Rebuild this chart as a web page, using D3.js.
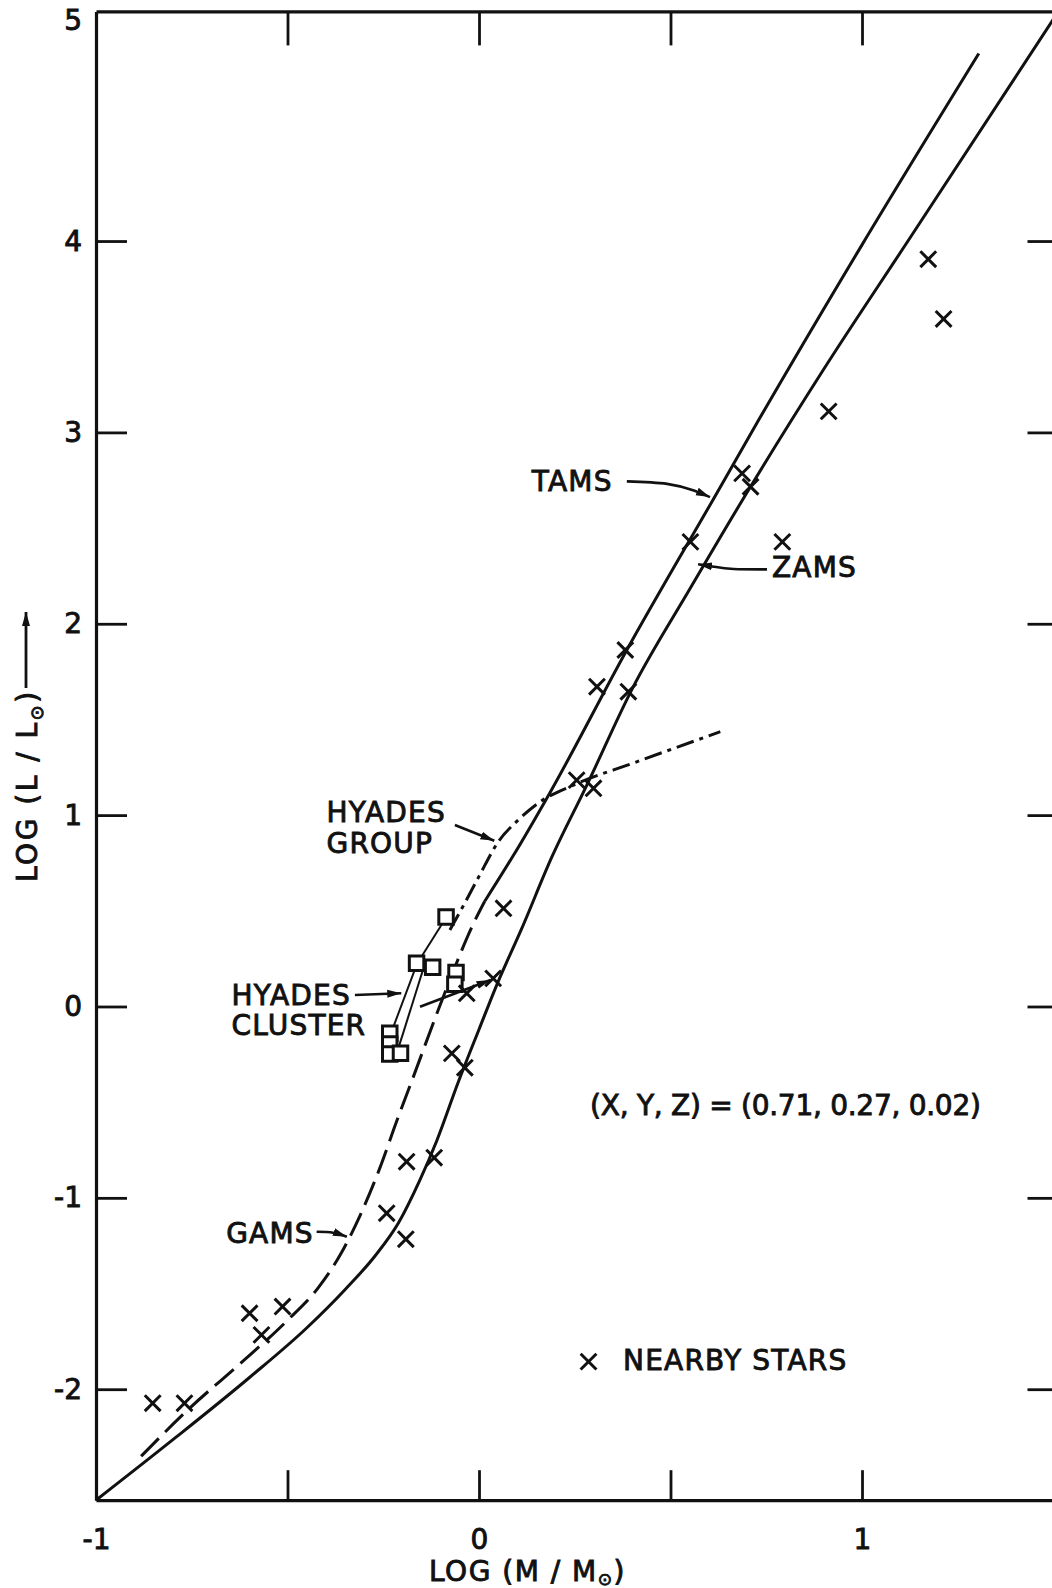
<!DOCTYPE html>
<html>
<head>
<meta charset="utf-8">
<script src="https://cdn.jsdelivr.net/npm/d3@7"></script>
<style>
  body { margin: 0; background: #fff; }
</style>
</head>
<body>
<div id="chart"></div>
<script>
const W = 1052, H = 1588;
const PLOT = {LEFT: 96, RIGHT: 1053.5, TOP: 11.4, BOTTOM: 1500.2};
const FONT = "DejaVu Sans";
const INK = "#111";

// tick values / labels
const xTickValues = [-1, -0.5, 0, 0.5, 1];
const xTickLabels = ["-1", "", "0", "", "1"];
const xTopTicks = [-0.5, 0, 0.5, 1];
const yTickValues = [-2, -1, 0, 1, 2, 3, 4, 5.15];
const yTickLabels = ["-2", "-1", "0", "1", "2", "3", "4", "5"];
const yRightTicks = [-2, -1, 0, 1, 2, 3, 4];

// curves, [log M, log L], ascending in log M
const zams = [
    [-1.00, -2.58], [-0.80, -2.265], [-0.60, -1.94], [-0.45, -1.68], [-0.35, -1.48],
    [-0.27, -1.30], [-0.21, -1.13], [-0.155, -0.91], [-0.11, -0.70], [-0.055, -0.40],
    [0.0, -0.12], [0.05, 0.13], [0.11, 0.40], [0.19, 0.78], [0.28, 1.15],
    [0.40, 1.66], [0.55, 2.18], [0.71, 2.72], [0.90, 3.33], [1.12, 4.00], [1.50, 5.16]
];
const tams = [
    [0.015, 0.55], [0.09, 0.79], [0.186, 1.12], [0.386, 1.863], [0.613, 2.655],
    [0.726, 3.05], [1.00, 3.98], [1.305, 4.98]
];
const gams = [
    [-0.882, -2.35], [-0.756, -2.10], [-0.62, -1.86], [-0.50, -1.64], [-0.42, -1.47],
    [-0.36, -1.29], [-0.31, -1.09], [-0.26, -0.85], [-0.215, -0.60], [-0.17, -0.36],
    [-0.12, -0.09], [-0.07, 0.17], [-0.02, 0.41], [0.015, 0.55]
];
const hyadesGroup = [
    [-0.076, 0.40], [-0.04, 0.53], [0.0, 0.68], [0.05, 0.86], [0.10, 0.97],
    [0.16, 1.07], [0.25, 1.16], [0.40, 1.27], [0.630, 1.436]
];

// nearby stars (x marks)
const nearbyStars = [
    [-0.852, -2.073], [-0.769, -2.073], [-0.599, -1.603], [-0.568, -1.716], [-0.513, -1.568],
    [-0.241, -1.080], [-0.189, -0.811], [-0.191, -1.216], [-0.117, -0.790], [-0.071, -0.245],
    [-0.037, -0.320], [-0.032, 0.069], [0.037, 0.147], [0.064, 0.513], [0.255, 1.183],
    [0.299, 1.140], [0.308, 1.671], [0.382, 1.863], [0.390, 1.645], [0.552, 2.428],
    [0.687, 2.786], [0.709, 2.716], [0.792, 2.428], [0.913, 3.110], [1.173, 3.905],
    [1.213, 3.593]
];

// hyades cluster (squares) and the lines joining them
const hyadesCluster = [
    [-0.086, 0.467], [-0.163, 0.226], [-0.121, 0.205], [-0.060, 0.177], [-0.063, 0.116],
    [-0.233, -0.140], [-0.233, -0.196], [-0.233, -0.248], [-0.205, -0.245]
];
const hyadesLinks = [
    [[-0.092, 0.445], [-0.152, 0.255]],
    [[-0.168, 0.190], [-0.228, -0.130]],
    [[-0.148, 0.180], [-0.210, -0.215]]
];

const svg = d3.select("#chart").append("svg")
    .attr("width", W)
    .attr("height", H)
    .style("background", "#fff");

const x = d3.scaleLinear().domain([-1, 1.5]).range([PLOT.LEFT, PLOT.RIGHT]);
const y = d3.scaleLinear().domain([-2.58, 5.2]).range([PLOT.BOTTOM, PLOT.TOP]);

// arrow head
svg.append("defs").append("marker")
    .attr("id", "head")
    .attr("markerUnits", "userSpaceOnUse")
    .attr("markerWidth", 16).attr("markerHeight", 12)
    .attr("refX", 14).attr("refY", 5)
    .attr("orient", "auto")
    .append("path")
    .attr("d", "M0,1 L14,5 L0,9 Z")
    .attr("fill", INK);

function inked(sel) {
    sel.attr("fill", INK).attr("stroke", INK).attr("stroke-width", 0.9);
}

function styleAxis(g) {
    g.attr("font-family", FONT).attr("font-size", 28);
    g.select(".domain").attr("stroke", INK).attr("stroke-width", 3.2);
    g.selectAll(".tick line").attr("stroke", INK).attr("stroke-width", 2.8);
    g.selectAll(".tick text").call(inked);
}

// bottom axis
svg.append("g")
    .attr("transform", `translate(0, ${PLOT.BOTTOM})`)
    .call(d3.axisBottom(x).tickValues(xTickValues).tickFormat((d, i) => xTickLabels[i])
        .tickSizeInner(-30).tickSizeOuter(0).tickPadding(29))
    .call(styleAxis);

// top axis
svg.append("g")
    .attr("transform", `translate(0, ${PLOT.TOP})`)
    .call(d3.axisTop(x).tickValues(xTopTicks).tickFormat("")
        .tickSizeInner(-34).tickSizeOuter(0))
    .call(styleAxis);

// left axis
const yAxisG = svg.append("g")
    .attr("transform", `translate(${PLOT.LEFT}, 0)`)
    .call(d3.axisLeft(y).tickValues(yTickValues).tickFormat((d, i) => yTickLabels[i])
        .tickSizeInner(-31).tickSizeOuter(0).tickPadding(14))
    .call(styleAxis);
yAxisG.selectAll(".tick line").filter(d => d > 5).remove();

// right axis
svg.append("g")
    .attr("transform", `translate(${PLOT.RIGHT}, 0)`)
    .call(d3.axisRight(y).tickValues(yRightTicks).tickFormat("")
        .tickSizeInner(-26).tickSizeOuter(0))
    .call(styleAxis);

// axis titles
const xTitle = svg.append("text")
    .attr("x", 429).attr("y", 1581)
    .attr("font-family", FONT).attr("font-size", 28)
    .attr("letter-spacing", 1.5)
    .call(inked);
xTitle.append("tspan").text("LOG (M / M");
xTitle.append("tspan").attr("font-size", 17).attr("dy", 4).text("\u2299");
xTitle.append("tspan").attr("dy", -4).text(")");

const yTitle = svg.append("text")
    .attr("transform", "translate(37, 882) rotate(-90)")
    .attr("font-family", FONT).attr("font-size", 28)
    .attr("letter-spacing", 2.5)
    .call(inked);
yTitle.append("tspan").text("LOG (L / L");
yTitle.append("tspan").attr("font-size", 18).attr("dy", 6).text("\u2299");
yTitle.append("tspan").attr("dy", -6).text(")");

svg.append("line")
    .attr("x1", 26).attr("y1", 688).attr("x2", 26).attr("y2", 612)
    .attr("stroke", INK).attr("stroke-width", 2.8)
    .attr("marker-end", "url(#head)");

// curves
const line = d3.line()
    .x(d => x(d[0]))
    .y(d => y(d[1]))
    .curve(d3.curveMonotoneX);

const curves = svg.append("g").attr("fill", "none").attr("stroke", INK);
curves.append("path").datum(zams).attr("d", line).attr("stroke-width", 3);
curves.append("path").datum(tams).attr("d", line).attr("stroke-width", 3);
curves.append("path").datum(gams).attr("d", line).attr("stroke-width", 3)
    .attr("stroke-dasharray", "25,9");
curves.append("path").datum(hyadesGroup).attr("d", line).attr("stroke-width", 3)
    .attr("stroke-dasharray", "18,6,4,6");

// hyades cluster
svg.append("g").selectAll("line")
    .data(hyadesLinks)
    .enter()
    .append("line")
    .attr("x1", d => x(d[0][0])).attr("y1", d => y(d[0][1]))
    .attr("x2", d => x(d[1][0])).attr("y2", d => y(d[1][1]))
    .attr("stroke", INK)
    .attr("stroke-width", 2);

svg.append("g").selectAll("path")
    .data(hyadesCluster)
    .enter()
    .append("path")
    .attr("transform", d => `translate(${x(d[0])}, ${y(d[1])})`)
    .attr("d", d3.symbol().type(d3.symbolSquare).size(210))
    .attr("fill", "#fff")
    .attr("stroke", INK)
    .attr("stroke-width", 3);

// nearby stars
const cross = d3.symbol().type(d3.symbolX).size(165);
svg.append("g").selectAll("path")
    .data(nearbyStars)
    .enter()
    .append("path")
    .attr("transform", d => `translate(${x(d[0])}, ${y(d[1])})`)
    .attr("d", cross)
    .attr("fill", "none")
    .attr("stroke", INK)
    .attr("stroke-width", 3);

// annotations
const notes = svg.append("g")
    .attr("font-family", FONT)
    .attr("font-size", 28)
    .attr("letter-spacing", 1.2)
    .call(inked);

function note(text, px, py) {
    return notes.append("text").attr("x", x(px)).attr("y", y(py)).text(text);
}
function pointer(pts, straight) {
    svg.append("path")
        .datum(pts)
        .attr("d", d3.line().x(d => x(d[0])).y(d => y(d[1]))
            .curve(straight ? d3.curveLinear : d3.curveNatural))
        .attr("fill", "none")
        .attr("stroke", INK)
        .attr("stroke-width", 2.6)
        .attr("marker-end", "url(#head)");
}

note("TAMS", 0.138, 2.695);
pointer([[0.386, 2.744], [0.491, 2.731], [0.561, 2.696], [0.603, 2.662]]);

note("ZAMS", 0.765, 2.244);
pointer([[0.752, 2.284], [0.665, 2.286], [0.613, 2.298], [0.572, 2.311]]);

note("HYADES", -0.398, 0.964);
note("GROUP", -0.398, 0.802);
pointer([[-0.063, 0.948], [0.040, 0.866]], true);

note("HYADES", -0.646, 0.010);
note("CLUSTER", -0.646, -0.149);
pointer([[-0.324, 0.060], [-0.203, 0.069]], true);

note("GAMS", -0.660, -1.237);
pointer([[-0.424, -1.177], [-0.381, -1.182], [-0.345, -1.203]]);

// evolution arrow across the cluster
pointer([[-0.154, -0.001], [0.030, 0.138]], true);

note("(X, Y, Z) = (0.71, 0.27, 0.02)", 0.290, -0.567)
    .attr("textLength", 392)
    .attr("lengthAdjust", "spacing");

// legend
svg.append("path")
    .attr("transform", `translate(${x(0.286)}, ${y(-1.856)})`)
    .attr("d", cross)
    .attr("fill", "none")
    .attr("stroke", INK)
    .attr("stroke-width", 3);
note("NEARBY  STARS", 0.376, -1.899);
</script>
</body>
</html>
